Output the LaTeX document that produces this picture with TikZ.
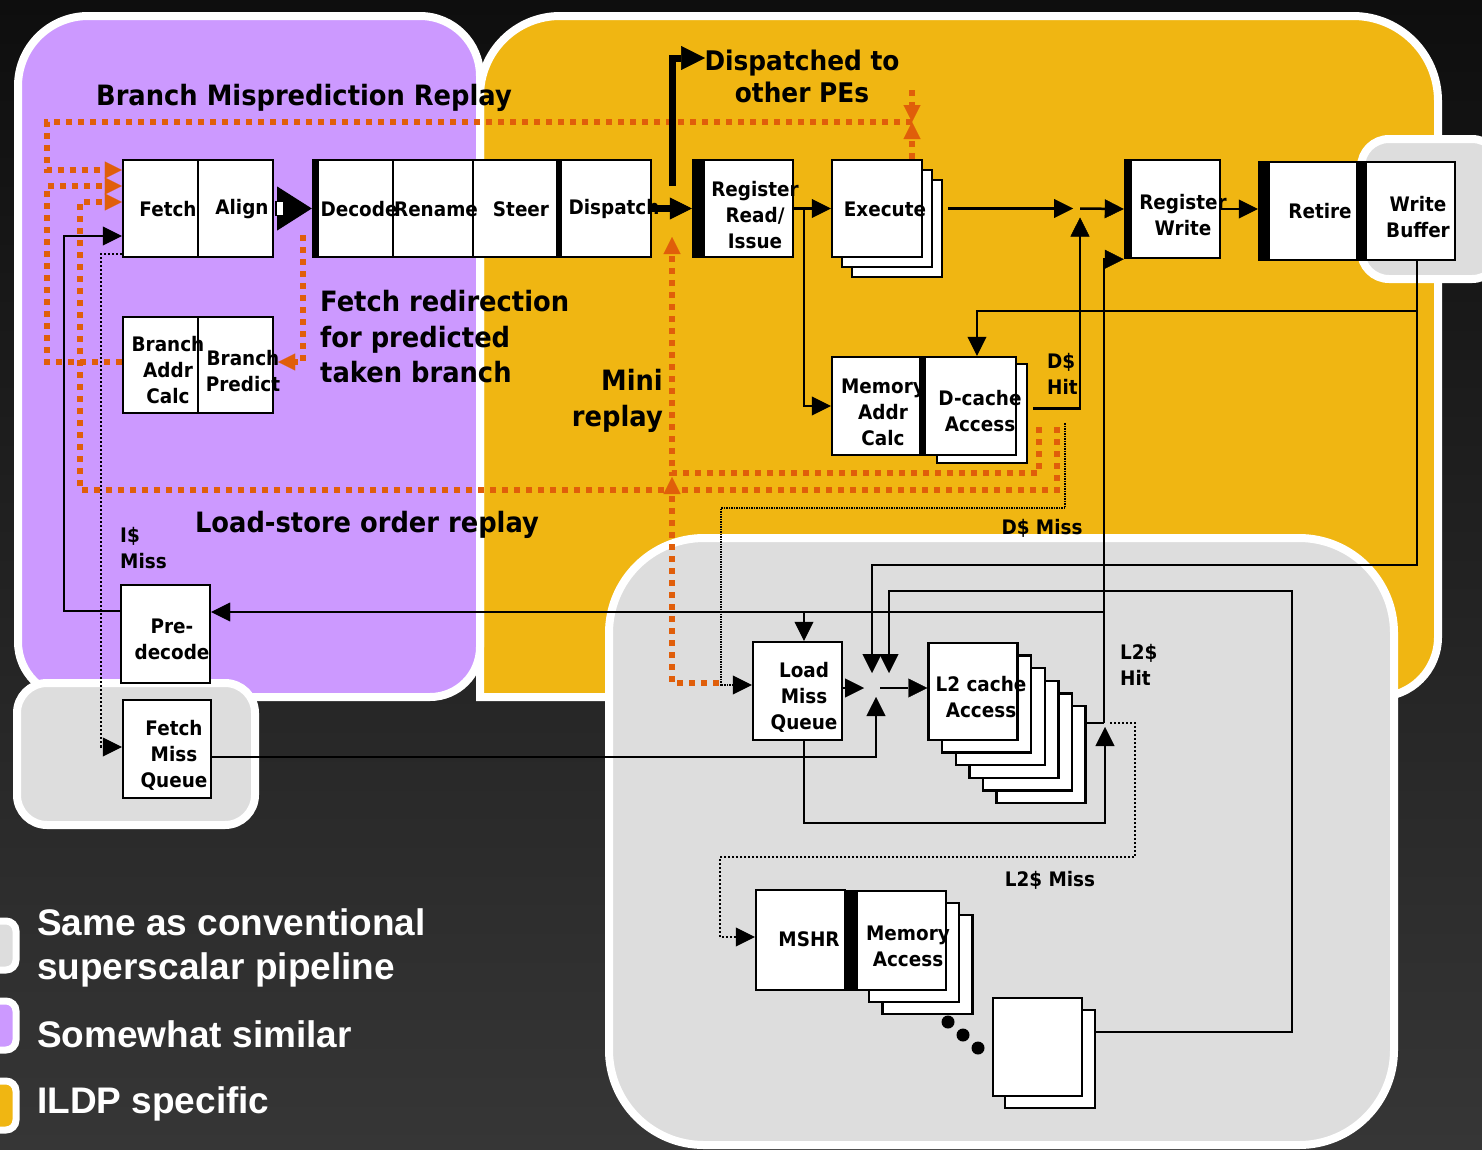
\documentclass[tikz,border=0pt]{standalone}
\usepackage{fontspec}
\setmainfont{DejaVu Sans}
\newfontfamily\lbl[FakeStretch=0.92]{DejaVu Sans}
\newfontfamily\lgd{Liberation Sans}
\usetikzlibrary{arrows.meta,calc}
\definecolor{purp}{RGB}{204,153,255}
\definecolor{ylw}{RGB}{240,182,18}
\definecolor{lgray}{RGB}{221,221,221}
\definecolor{orng}{RGB}{224,94,10}
\definecolor{bgtop}{RGB}{14,14,14}
\definecolor{bgbot}{RGB}{54,54,54}
\begin{document}
\begin{tikzpicture}[x=1pt,y=-1pt,
  region/.style={draw=white,line width=8pt},
  box/.style={draw=black,fill=white,line width=2.4pt,inner sep=0pt},
  sz/.style 2 args={minimum width=#1pt,minimum height=#2pt},
  txt/.style={font=\lbl\bfseries\fontsize{20}{26}\selectfont,align=center,inner sep=0pt},
  txl/.style={font=\lbl\bfseries\fontsize{20}{25.5}\selectfont,align=left,inner sep=0pt},
  big/.style={font=\lbl\bfseries\fontsize{28}{35.5}\selectfont,inner sep=0pt},
  ln/.style={line width=2.5pt},
  ar/.style={-{Triangle[length=19pt,width=19pt,line width=0.4pt]}},
  td/.style={line width=2pt,dash pattern=on 2pt off 2pt},
  tdf/.style={line width=1.5pt,dash pattern=on 1.5pt off 1pt},
  od/.style={draw=orng,line width=6pt,dash pattern=on 6pt off 6pt},
  aro/.style={-{Triangle[length=17pt,width=17pt,line width=0.1pt]}},
  lg/.style={font=\lgd\bfseries\fontsize{37}{43.5}\selectfont,text=white,align=left,inner sep=0pt},
]
\useasboundingbox (0,0) rectangle (1482,1149);
\shade[top color=bgtop,bottom color=bgbot] (0,0) rectangle (1482,1149);

% ---------- coloured regions ----------
\draw[region,fill=ylw] (480,96) arc[start angle=180,end angle=270,radius=80]
  -- (1353,16) arc[start angle=270,end angle=360,radius=85]
  -- (1438,637) arc[start angle=0,end angle=90,radius=60]
  -- (480,697) -- cycle;
\draw[region,fill=purp] (18,86) arc[start angle=180,end angle=270,radius=70]
  -- (420,16) arc[start angle=270,end angle=360,radius=60]
  -- (480,647) arc[start angle=0,end angle=90,radius=50]
  -- (73,697) arc[start angle=90,end angle=180,radius=55] -- cycle;
\draw[region,fill=lgray,rounded corners=95pt] (609,538) rectangle (1394,1145);
\draw[region,fill=lgray,rounded corners=30pt] (17,683) rectangle (255,825);
\draw[region,fill=lgray,rounded corners=28pt] (1361,139) rectangle (1500,279);

% ---------- legend ----------
\draw[region,line width=7pt,fill=lgray,rounded corners=10pt] (-40,921) rectangle (16,970);
\draw[region,line width=7pt,fill=purp,rounded corners=10pt] (-40,1001) rectangle (16,1050);
\draw[region,line width=7pt,fill=ylw,rounded corners=10pt] (-40,1081) rectangle (16,1130);
\node[lg,anchor=base west] (lg1) at (37,979) {Same as conventional\\superscalar pipeline};
\node[lg,anchor=base west] (lg2) at (37,1047) {Somewhat similar};
\node[lg,anchor=base west] (lg3) at (37,1113) {ILDP specific};

% ---------- junction points ----------
\coordinate (mg) at (877,688);
\coordinate (j1) at (1076,208.5);
\coordinate (l2j) at (1104,723);
\coordinate (pj) at (1104,612);
\coordinate (wbd) at (1417,565);
\coordinate (wbb) at (1417,311);
\coordinate (mret) at (1292,591);
\coordinate (lb) at (1105,823);
\coordinate (pe0) at (672,186);
\coordinate (pe1) at (705,58);
\coordinate (bm) at (912,122);
\coordinate (bmt) at (912,90);
\coordinate (lmr) at (1135,723);
\coordinate (lmb) at (720,857);
\coordinate (mrj) at (672,473);
\coordinate (mrt) at (672,237);
\coordinate (mrl) at (672,683);
\coordinate (lsx) at (80,490);
\coordinate (fr0) at (303,235);

% ---------- pipeline boxes ----------
\node[box,sz={75}{97}] (fetch) at (160.5,208.5) {};
\node[box,sz={75}{97}] (align) at (235.5,208.5) {};
\node[box,sz={75}{96}] (bac) at (160.5,365) {};
\node[box,sz={75}{96}] (bpr) at (235.5,365) {};
\node[box,sz={80}{97}] (dec) at (353,208.5) {};
\node[box,sz={80}{97}] (ren) at (433,208.5) {};
\node[box,sz={84}{97}] (str) at (515,208.5) {};
\node[box,sz={94}{97}] (dsp) at (604,208.5) {};
\node[box,sz={100}{97}] (rr) at (743,208.5) {};
\node[box,sz={90}{97}] (exec3) at (897,228.5) {};
\node[box,sz={90}{97}] (exec2) at (887,218.5) {};
\node[box,sz={90}{97}] (exec) at (877,208.5) {};
\node[box,sz={95}{98}] (rw) at (1172.5,209) {};
\node[box,sz={98}{98}] (ret) at (1308,211) {};
\node[box,sz={98}{98}] (wb) at (1406,211) {};
\node[box,sz={88}{98}] (mac) at (876,406) {};
\node[box,sz={90}{99}] (dcs) at (982,413.5) {};
\node[box,sz={96}{98}] (dc) at (968,406) {};
\node[box,sz={89}{98}] (pre) at (165.5,634) {};
\node[box,sz={88}{98}] (fmq) at (167,749) {};
\node[box,sz={89}{98}] (lmq) at (797.5,691) {};
\foreach \k in {5,4,3,2,1}{
  \node[box,sz={89}{97}] (l2s\k) at ({973+13.6*\k},{691.5+12.6*\k}) {};
}
\node[box,sz={89}{97}] (l2) at (973,691.5) {};
\node[box,sz={89}{100}] (mshr) at (800.5,940) {};
\node[box,sz={90}{99}] (mas2) at (927.5,964.5) {};
\node[box,sz={90}{99}] (mas1) at (914,952.5) {};
\node[box,sz={101}{99}] (ma) at (895.5,940.5) {};
\node[box,sz={90}{98}] (lasts) at (1050,1059) {};
\node[box,sz={89}{98}] (last) at (1037.5,1047) {};
\foreach \p in {(948,1022),(963,1035),(978,1048)} \fill \p circle[radius=6.5pt];

% latch bars on the left side of stages
\fill (dec.north west) rectangle ++(7,97);
\fill (dsp.north west) rectangle ++(6,97);
\fill (rr.north west) rectangle ++(13,97);
\fill (rw.north west) rectangle ++(8,98);
\fill (ret.north west) rectangle ++(12,98);
\fill (wb.north west) rectangle ++(11,98);
\fill (dc.north west) rectangle ++(7,98);
\fill (ma.north west) rectangle ++(14,99);

% ---------- box texts ----------
\node[txt] (t-fetch) at (168,209) {Fetch};
\node[txt] (t-align) at (242,209) {Align};
\node[txt] (t-dec) at (359,209) {Decode};
\node[txt] (t-ren) at (436,209) {Rename};
\node[txt] (t-str) at (521,209) {Steer};
\node[txt] (t-dsp) at (614,209) {Dispatch};
\node[txt] (t-rr) at (755,215) {Register\\Read/\\Issue};
\node[txt] (t-exec) at (885,209) {Execute};
\node[txt] (t-rw) at (1183,215) {Register\\Write};
\node[txt] (t-ret) at (1320,211) {Retire};
\node[txt] (t-wb) at (1418,217) {Write\\Buffer};
\node[txt] (t-bac) at (168,370) {Branch\\Addr\\Calc};
\node[txt] (t-bpr) at (243,371) {Branch\\Predict};
\node[txt] (t-mac) at (883,412) {Memory\\Addr\\Calc};
\node[txt] (t-dc) at (980,411) {D-cache\\Access};
\node[txt] (t-pre) at (172,639) {Pre-\\decode};
\node[txt] (t-fmq) at (174,755) {Fetch\\Miss\\Queue};
\node[txt] (t-lmq) at (804,697) {Load\\Miss\\Queue};
\node[txt] (t-l2) at (981,697) {L2 cache\\Access};
\node[txt] (t-mshr) at (809,939) {MSHR};
\node[txt] (t-ma) at (908,946) {Memory\\Access};

% ---------- free labels ----------
\node[big,anchor=base] (l-bmr) at (304,105) {Branch Misprediction Replay};
\node[big,align=center,font=\lbl\bfseries\fontsize{27}{32}\selectfont] (l-pe) at (802,76) {Dispatched to\\other PEs};
\node[big,align=left,anchor=west] (l-fr) at (320,337) {Fetch redirection\\for predicted\\taken branch};
\node[big,align=right,anchor=east] (l-mini) at (663,401) {Mini\\replay};
\node[big,anchor=base] (l-ls) at (367,532) {Load-store order replay};
\node[txl,anchor=west] (l-im) at (120,548) {I\$\\Miss};
\node[txl,anchor=west] (l-dh) at (1047,374) {D\$\\Hit};
\node[txt] (l-dm) at (1042,528) {D\$ Miss};
\node[txl,anchor=west] (l-lh) at (1120,665) {L2\$\\Hit};
\node[txt] (l-lm) at (1050,880) {L2\$ Miss};

% ---------- replay paths (orange) ----------
\draw[od,aro] ($(exec.north)+(35,0)$) -- (bm);
\draw[od,aro] (bmt) -- (bm);
\draw[od,aro] (bm) -| ($(fetch.west)+(-75,-38.5)$) -- ($(fetch.west)+(0,-38.5)$);
\draw[od,aro] ($(bac.west)+(0,-3)$) -- ++(-75,0) |- ($(fetch.west)+(0,-22.5)$);
\draw[od,aro] ($(dcs.east)+(29,13.5)$) |- (lsx) |- ($(fetch.west)+(0,-6.5)$);
\draw[od,aro] ($(dcs.east)+(11,13.5)$) |- (mrj) -- (mrt);
\draw[od,aro] ($(lmq.west)+(-33,-8)$) -- (mrl) -- ($(mrj)+(0,4)$);
\draw[od,aro] (fr0) |- ($(bpr.east)+(4,-3)$);

% ---------- miss paths (dotted) ----------
\draw[td,ar] ($(fetch.south west)+(0,-4)$) -- ++(-21,0) |- ($(fmq.west)+(0,-2)$);
\draw[tdf,ar] ($(dcs.east)+(37,9.5)$) |- ($(lmq.west)+(-31,-183)$) |- ($(lmq.west)+(0,-6)$);
\draw[td,ar] ($(l2j)+(6,0)$) -- (lmr) |- (lmb) |- ($(mshr.west)+(0,-3)$);

% ---------- data paths ----------
\fill ($(align.east)+(3,-22)$) -- (dec.west) -- ($(align.east)+(3,22)$) -- cycle;
\draw[line width=1.5pt,fill=white] ($(align.east)+(2,-7)$) rectangle ($(align.east)+(10,7)$);
\draw[line width=7pt,-{Triangle[length=22pt,width=22pt,line width=0.5pt]}] (dsp.east) -- (rr.west);
\draw[line width=7pt,-{Triangle[length=24pt,width=24pt,line width=0.5pt]}] (pe0) |- (pe1);
\draw[ln,ar] (rr.east) -- (exec.west);
\draw[ln,ar] ($(rr.east)+(10,0)$) |- (mac.west);
\draw[ln,ar] ($(exec3.east |- exec.east)+(5,0)$) -- ($(j1)+(-3,0)$);
\draw[ln,ar] ($(j1)+(4,0)$) -- (rw.west);
\draw[ln,ar] ($(dcs.east)+(5,-5)$) -| ($(j1)+(4,9)$);
\draw[ln] (l2s5.east |- l2j) -- (l2j);
\draw[ln,ar] (l2j) |- (rw.south west);
\draw[ln,ar] (rw.east) -- (rw.east -| ret.west);
\draw[ln,ar] ($(wb.south)+(11,0)$) -- (wbd) -| ($(mg)+(-5,-15)$);
\draw[ln,ar] (wbb) -| ($(dc.north)+(9,0)$);
\draw[ln,ar] ($(lasts.east)+(0,-27)$) -| (mret) -| ($(mg)+(12,-15)$);
\draw[ln,ar] ($(fmq.east)+(0,8)$) -| ($(mg)+(-1,9)$);
\draw[ln,ar] ($(lmq.east)+(0,-3)$) -- ($(mg)+(-13,0)$);
\draw[ln,ar] ($(mg)+(3,0)$) -- (l2.west |- mg);
\draw[ln,ar] ($(lmq.south)+(6.5,0)$) |- (lb) -- ($(l2j)+(1,4)$);
\draw[ln,ar] (pj) -- (pre.east |- pj);
\draw[ln,ar] ($(lmq.north |- pj)+(6.5,0)$) -- ($(lmq.north)+(6.5,0)$);
\draw[ln,ar] ($(pre.west)+(0,-23)$) -- ++(-56,0) |- ($(fetch.west)+(0,27.5)$);
\end{tikzpicture}
\end{document}
